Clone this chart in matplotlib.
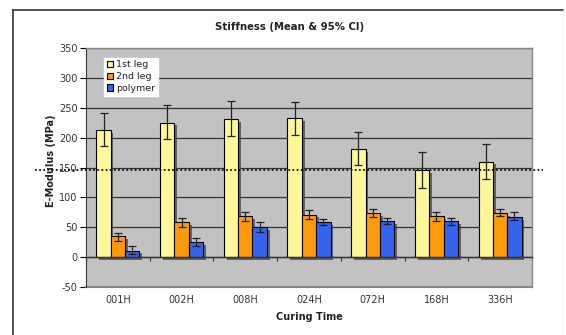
import matplotlib
matplotlib.use("Agg")
import matplotlib.pyplot as plt
import matplotlib.patheffects as pe
import matplotlib.transforms as mtransforms
from matplotlib.lines import Line2D
from matplotlib.patches import Patch
import numpy as np

categories = ["001H", "002H", "008H", "024H", "072H", "168H", "336H"]
series_names = ["1st leg", "2nd leg", "polymer"]

leg1_mean = [212, 225, 231, 233, 181, 145, 160]
leg1_low = [186, 197, 202, 205, 154, 116, 131]
leg1_high = [242, 254, 262, 260, 210, 176, 189]

leg2_mean = [35, 58, 68, 71, 74, 68, 74]
leg2_low = [27, 51, 61, 64, 67, 60, 68]
leg2_high = [41, 65, 76, 79, 80, 76, 80]

poly_mean = [11, 25, 50, 58, 60, 60, 67]
poly_low = [6, 19, 42, 53, 55, 54, 62]
poly_high = [18, 32, 59, 64, 66, 66, 75]

reference_level = 145

colors = ["#FFF799", "#FF9A0A", "#3464EE"]
yticks = [-50, 0, 50, 100, 150, 200, 250, 300, 350]

fig = plt.figure(figsize=(5.66, 3.35), dpi=100)
fig.patch.set_facecolor("white")

W, H = 566, 335
ax = fig.add_axes([86 / W, 1 - 287 / H, (532 - 86) / W, (287 - 48) / H])
ax.set_facecolor("#C2C2C2")

x = np.arange(len(categories))
width = 0.225
offsets = [-width, 0, width]
means = [leg1_mean, leg2_mean, poly_mean]
lows = [leg1_low, leg2_low, poly_low]
highs = [leg1_high, leg2_high, poly_high]

shadow = [pe.SimplePatchShadow(offset=(2, -2), shadow_rgbFace="#4a4a4a", alpha=0.8), pe.Normal()]
for m, lo, hi, off, c in zip(means, lows, highs, offsets, colors):
    m = np.array(m); lo = np.array(lo); hi = np.array(hi)
    bars = ax.bar(x + off, m, width, color=c, edgecolor="black", linewidth=0.8, zorder=3)
    for b in bars:
        b.set_path_effects(shadow)
    ax.errorbar(x + off, m, yerr=[m - lo, hi - m], fmt="none", ecolor="#222222",
                elinewidth=0.9, capsize=3, capthick=0.9, zorder=4)

ax.set_xlim(-0.5, len(categories) - 0.5)
ax.set_ylim(-50, 350)
ax.set_yticks(yticks)
ax.set_yticklabels([str(v) for v in yticks], fontsize=7, color="#333333")
ax.tick_params(axis="y", direction="out", length=4, width=0.8, pad=2)
for v in yticks[1:]:
    ax.axhline(v, color="#333333", linewidth=0.9, zorder=1)

# category axis at zero
ax.spines["bottom"].set_position(("data", 0))
ax.spines["bottom"].set_color("#333333")
ax.spines["bottom"].set_linewidth(1.0)
ax.spines["bottom"].set_zorder(5)
ax.set_xticks(x)
ax.set_xticklabels(categories, fontsize=7, color="#333333")
ax.tick_params(axis="x", which="major", length=0, pad=27)
ax.set_xticks(np.arange(len(categories) + 1) - 0.5, minor=True)
ax.tick_params(axis="x", which="minor", direction="out", length=3, width=0.8, color="#333333")
ax.spines["left"].set_color("#333333")
for s in ["top", "right"]:
    ax.spines[s].set_color("#888888")
    ax.spines[s].set_linewidth(1.0)
# bottom edge of plot area
ax.axhline(-50, color="#888888", linewidth=1.5, zorder=2, clip_on=False)

# dotted reference line
trans = mtransforms.blended_transform_factory(ax.transAxes, ax.transData)
ax.plot([-0.114, 1.025], [reference_level, reference_level], transform=trans,
        color="#111111", linestyle=(0, (1, 1.3)), linewidth=1.3, clip_on=False, zorder=6)

ax.set_ylabel("E-Modulus (MPa)", fontsize=7, fontweight="bold", color="#222222")
ax.yaxis.set_label_coords(-0.068, 0.53)
fig.text(309 / W, 1 - 317 / H, "Curing Time", ha="center", va="center",
         fontsize=7, fontweight="bold", color="#222222")
fig.text(290 / W, 1 - 27 / H, "Stiffness (Mean & 95% CI)", ha="center", va="center",
         fontsize=7.3, fontweight="bold", color="#222222")

handles = [Patch(facecolor=c, edgecolor="black", linewidth=0.8) for c in colors]
leg = ax.legend(handles, series_names, loc="upper left", bbox_to_anchor=(0.04, 0.96),
                fontsize=6.8, frameon=True, fancybox=False, borderpad=0.3,
                handlelength=0.7, handleheight=0.7, handletextpad=0.3, labelspacing=0.3,
                borderaxespad=0)
leg.get_frame().set_facecolor("white")
leg.get_frame().set_edgecolor("white")
leg.get_frame().set_alpha(1)
leg.set_zorder(7)
for t in leg.get_texts():
    t.set_color("#222222")

# outer chart border
fig.add_artist(Line2D([13 / W, 563 / W], [1 - 10 / H, 1 - 10 / H], color="#333333", linewidth=1.2))
fig.add_artist(Line2D([13 / W, 13 / W], [1 - 10 / H, 0], color="#333333", linewidth=1.2))
fig.add_artist(Line2D([563 / W, 563 / W], [1 - 10 / H, 0], color="#eeeeee", linewidth=0.6))

fig.savefig("out.png", dpi=100)
